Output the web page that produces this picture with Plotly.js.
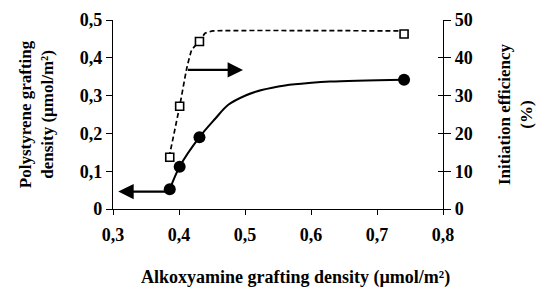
<!DOCTYPE html>
<html>
<head>
<meta charset="utf-8">
<script src="https://cdn.plot.ly/plotly-3.0.1.min.js"></script>
<style>html,body{margin:0;padding:0;background:#fff;}#chart{width:540px;height:289px;}</style>
</head>
<body>
<div id="chart"></div>
<script>
// Measured points
const alkoxyamine = [0.386, 0.401, 0.431, 0.741];
const psDensity = [0.052, 0.112, 0.19, 0.342];
const initEff = [13.7, 27.2, 44.3, 46.3];

// Trend curves
const psCurveX = [0.386, 0.401, 0.431, 0.4545, 0.4747, 0.500, 0.5253, 0.5606, 0.601, 0.629, 0.741];
const psCurveY = [0.052, 0.112, 0.19, 0.238, 0.2756, 0.2996, 0.3148, 0.327, 0.334, 0.337, 0.342];
const ieCurveX = [0.385, 0.401, 0.4117, 0.4192, 0.4308, 0.4394, 0.4515, 0.741];
const ieCurveY = [13.7, 27.2, 37.2, 42.1, 44.3, 46.5, 47.1, 47.1];

// Arrow indications
const leftArrow = {from: [0.386, 0.046], to: [0.308, 0.046]};
const rightArrow = {from: [0.411, 36.8], to: [0.497, 36.8]};

const xTicks = [0.3, 0.4, 0.5, 0.6, 0.7, 0.8];
const yTicks = [0, 0.1, 0.2, 0.3, 0.4, 0.5];
const y2Ticks = [0, 10, 20, 30, 40, 50];

const xTitle = 'Alkoxyamine grafting density (µmol/m²)';
const yTitle = 'Polystyrene grafting<br>density (µmol/m²)';
const y2Title = 'Initiation efficiency<br>(%)';

const FONT = 'Liberation Serif';

const traces = [
  {x: psCurveX, y: psCurveY, mode: 'lines', line: {color: '#000', width: 2, shape: 'spline', smoothing: 1.0}, yaxis: 'y', hoverinfo: 'skip', showlegend: false},
  {x: ieCurveX, y: ieCurveY, mode: 'lines', line: {color: '#000', width: 1.7, dash: '5px,3px', shape: 'spline', smoothing: 0.3}, yaxis: 'y2', hoverinfo: 'skip', showlegend: false},
  {x: alkoxyamine, y: psDensity, mode: 'markers', marker: {symbol: 'circle', size: 12, color: '#000'}, yaxis: 'y', showlegend: false},
  {x: alkoxyamine, y: initEff, mode: 'markers', marker: {symbol: 'square', size: 8, color: '#fff', line: {color: '#000', width: 1.6}}, yaxis: 'y2', showlegend: false},
  {x: [null], y: [null], yaxis: 'y3', showlegend: false, hoverinfo: 'skip'}
];

const layout = {
  width: 540, height: 289,
  margin: {l: 113, r: 97, t: 20, b: 80},
  paper_bgcolor: '#fff', plot_bgcolor: '#fff',
  separators: ',.',
  font: {family: FONT, size: 18, color: '#000', weight: 'bold'},
  showlegend: false,
  xaxis: {
    range: [0.3, 0.8], tickvals: xTicks, ticks: 'outside', ticklen: 5, tickcolor: '#000', tickwidth: 1,
    showline: true, linecolor: '#000', linewidth: 1.2, showgrid: false, zeroline: false,
    ticklabelstandoff: 4,
    tickfont: {family: FONT, size: 18, weight: 'bold'}
  },
  yaxis: {
    range: [0, 0.5], tickvals: yTicks, ticks: 'outside', ticklen: 6, tickcolor: '#000', tickwidth: 1,
    showline: true, linecolor: '#000', linewidth: 1.2, showgrid: false, zeroline: false,
    tickfont: {family: FONT, size: 18, weight: 'bold'},
    title: {text: yTitle, font: {family: FONT, size: 17, weight: 'bold'}, standoff: 21}
  },
  yaxis2: {
    range: [0, 50], tickvals: y2Ticks, overlaying: 'y', side: 'right', ticks: 'outside', ticklen: 7, tickcolor: '#000', tickwidth: 1,
    showline: true, linecolor: '#000', linewidth: 1.2, showgrid: false, zeroline: false,
    tickfont: {family: FONT, size: 18, weight: 'bold'},
    title: {text: y2Title, font: {family: FONT, size: 17, weight: 'bold'}, standoff: 26}
  },
  yaxis3: {
    range: [0, 50], tickvals: y2Ticks, overlaying: 'y', side: 'right', ticks: 'inside', ticklen: 5, tickcolor: '#000', tickwidth: 1,
    showline: false, showgrid: false, zeroline: false, showticklabels: false
  },
  annotations: [
    {text: xTitle, xref: 'paper', yref: 'paper', x: 0.5545, y: -0.36, xanchor: 'center', yanchor: 'middle', showarrow: false,
     font: {family: FONT, size: 18, weight: 'bold', color: '#000'}},
    {x: leftArrow.to[0], y: leftArrow.to[1], ax: leftArrow.from[0], ay: leftArrow.from[1], xref: 'x', yref: 'y', axref: 'x', ayref: 'y',
     text: '', showarrow: true, arrowhead: 2, arrowsize: 1.4, arrowwidth: 2.2, arrowcolor: '#000', standoff: 0, startstandoff: 0},
    {x: rightArrow.to[0], y: rightArrow.to[1], ax: rightArrow.from[0], ay: rightArrow.from[1], xref: 'x', yref: 'y2', axref: 'x', ayref: 'y2',
     text: '', showarrow: true, arrowhead: 2, arrowsize: 1.4, arrowwidth: 2.2, arrowcolor: '#000', standoff: 0, startstandoff: 0}
  ]
};

Plotly.newPlot('chart', traces, layout, {displayModeBar: false, staticPlot: true});
</script>
</body>
</html>
